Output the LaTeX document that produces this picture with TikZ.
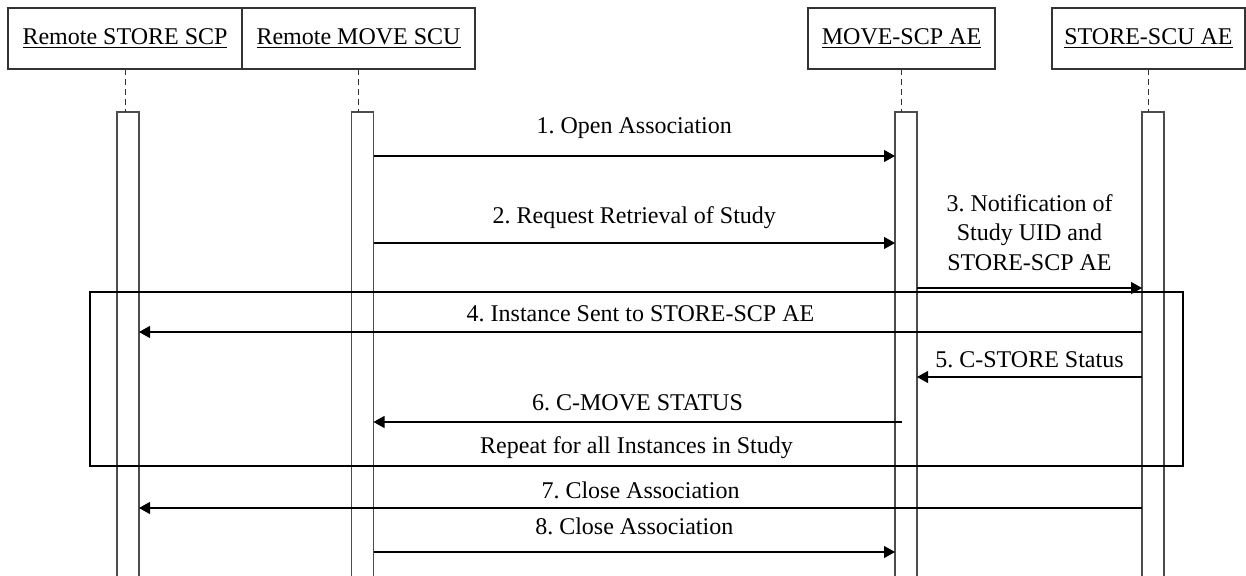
\documentclass[tikz,border=0pt]{standalone}
\usepackage{fontspec}
\setmainfont{Liberation Serif}
\usepackage{tikz}
\usetikzlibrary{arrows.meta, positioning}
\frenchspacing
\tikzstyle{actor}=[rectangle, draw=black!80, line width=0.6pt, minimum height=30.5pt, inner sep=0pt, outer sep=0pt]
\tikzstyle{activation}=[rectangle, draw=black!70, line width=0.55pt, minimum width=11pt, minimum height=239pt, inner sep=0pt, outer sep=0pt]
\tikzstyle{lifeline}=[draw=black!80, line width=0.5pt, dash pattern=on 3pt off 2pt]
\tikzstyle{msg}=[-{Triangle[length=5.5pt, width=6pt]}, line width=0.55pt]
\tikzstyle{loopbox}=[rectangle, draw, line width=0.8pt, inner sep=0pt, outer sep=0pt]

\begin{document}
\begin{tikzpicture}[x=0.5pt, y=-0.5pt, font=\fontsize{12}{14.75}\selectfont]
  \clip (0,0) rectangle (1246,576);
  \node[actor, minimum width=117pt] (rscp) at (125,38.5) {\underline{Remote STORE SCP}};
  \node[actor, minimum width=116.5pt] (rscu) [right=0pt of rscp] {\underline{Remote MOVE SCU}};
  \node[actor, minimum width=93.5pt] (mscp) at (901.5,38.5) {\underline{MOVE-SCP AE}};
  \node[actor, minimum width=96.5pt] (sscu) at (1148.5,38.5) {\underline{STORE-SCU AE}};
  \node[activation] (a1) at (128,351) {};
  \node[activation] (a2) at (362.5,351) {};
  \node[activation] (a3) at (906,351) {};
  \node[activation] (a4) at (1153,351) {};
  \foreach \h/\a in {rscp/a1, rscu/a2, mscp/a3, sscu/a4}
    \draw[lifeline] (\h.south) -- (\h.south |- \a.north);
  \node[loopbox, minimum width=546.5pt, minimum height=87pt] (loop) at (636.5,379) {};
  \node[above] (repeat) at (loop.south) {Repeat for all Instances in Study};
  \draw[msg] (a2.east |- 0,156) -- node[above=5.2pt] (m1) {1. Open Association} (a3.west |- 0,156);
  \draw[msg] (a2.east |- 0,243) -- node[above=3.7pt] (m2) {2. Request Retrieval of Study} (a3.west |- 0,243);
  \draw[msg] (a3.east |- 0,288) -- node[above=5.2pt, align=center] (m3) {3. Notification of\\Study UID and\\STORE-SCP AE} (a4.west |- 0,288);
  \draw[msg] (a4.west |- 0,332) -- node[above=1.7pt] (m4) {4. Instance Sent to STORE-SCP AE} (a1.east |- 0,332);
  \draw[msg] (a4.west |- 0,377) -- node[above=1.2pt] (m5) {5. C-STORE Status} (a3.east |- 0,377);
  \draw[msg] (mscp.south |- 0,422) -- node[above=2.2pt] (m6) {6. C-MOVE STATUS} (a2.east |- 0,422);
  \draw[msg] (a4.west |- 0,508) -- node[above=1.2pt] (m7) {7. Close Association} (a1.east |- 0,508);
  \draw[msg] (a2.east |- 0,552) -- node[above=5.2pt] (m8) {8. Close Association} (a3.west |- 0,552);
\end{tikzpicture}
\end{document}
